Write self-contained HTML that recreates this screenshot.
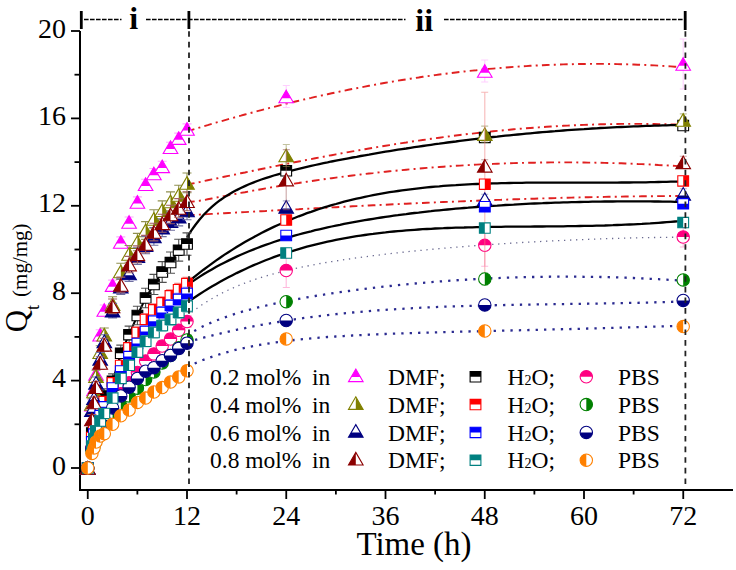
<!DOCTYPE html><html><head><meta charset="utf-8"><style>html,body{margin:0;padding:0;background:#fff;}svg{display:block;}text{font-family:"Liberation Serif",serif;}</style></head><body>
<svg width="736" height="570" viewBox="0 0 736 570">
<defs>
<clipPath id="ctop"><rect x="-10" y="-10" width="20" height="10"/></clipPath>
<clipPath id="ttop"><rect x="-10" y="-10" width="20" height="11.7"/></clipPath>
<clipPath id="tbottom"><rect x="-10" y="1.7" width="20" height="10"/></clipPath>
<clipPath id="cbottom"><rect x="-10" y="0" width="20" height="10"/></clipPath>
<clipPath id="cleft"><rect x="-10" y="-10" width="10" height="20"/></clipPath>
<clipPath id="cright"><rect x="0" y="-10" width="10" height="20"/></clipPath>
<g id="sM"><path d="M0,-6.3 L7.3,6.3 L-7.3,6.3 Z" fill="#fff"/><path d="M0,-6.3 L7.3,6.3 L-7.3,6.3 Z" fill="#FF00FF" clip-path="url(#ttop)"/><path d="M0,-6.3 L7.3,6.3 L-7.3,6.3 Z" fill="none" stroke="#FF00FF" stroke-width="1.1" stroke-linejoin="miter"/></g>
<g id="sO"><path d="M0,-6.3 L7.3,6.3 L-7.3,6.3 Z" fill="#fff"/><path d="M0,-6.3 L7.3,6.3 L-7.3,6.3 Z" fill="#808000" clip-path="url(#cright)"/><path d="M0,-6.3 L7.3,6.3 L-7.3,6.3 Z" fill="none" stroke="#808000" stroke-width="1.1" stroke-linejoin="miter"/></g>
<g id="sNV"><path d="M0,-6.3 L7.3,6.3 L-7.3,6.3 Z" fill="#fff"/><path d="M0,-6.3 L7.3,6.3 L-7.3,6.3 Z" fill="#000080" clip-path="url(#tbottom)"/><path d="M0,-6.3 L7.3,6.3 L-7.3,6.3 Z" fill="none" stroke="#000080" stroke-width="1.1" stroke-linejoin="miter"/></g>
<g id="sDR"><path d="M0,-6.3 L7.3,6.3 L-7.3,6.3 Z" fill="#fff"/><path d="M0,-6.3 L7.3,6.3 L-7.3,6.3 Z" fill="#8B0000" clip-path="url(#cleft)"/><path d="M0,-6.3 L7.3,6.3 L-7.3,6.3 Z" fill="none" stroke="#8B0000" stroke-width="1.1" stroke-linejoin="miter"/></g>
<g id="sBK"><path d="M-5.4,-5.2 H5.4 V5.2 H-5.4 Z" fill="#fff"/><path d="M-5.4,-5.2 H5.4 V5.2 H-5.4 Z" fill="#000000" clip-path="url(#ctop)"/><path d="M-5.4,-5.2 H5.4 V5.2 H-5.4 Z" fill="none" stroke="#000000" stroke-width="1.1" stroke-linejoin="miter"/></g>
<g id="sRD"><path d="M-5.4,-5.2 H5.4 V5.2 H-5.4 Z" fill="#fff"/><path d="M-5.4,-5.2 H5.4 V5.2 H-5.4 Z" fill="#FF0000" clip-path="url(#cright)"/><path d="M-5.4,-5.2 H5.4 V5.2 H-5.4 Z" fill="none" stroke="#FF0000" stroke-width="1.1" stroke-linejoin="miter"/></g>
<g id="sBL"><path d="M-5.4,-5.2 H5.4 V5.2 H-5.4 Z" fill="#fff"/><path d="M-5.4,-5.2 H5.4 V5.2 H-5.4 Z" fill="#0000FF" clip-path="url(#cbottom)"/><path d="M-5.4,-5.2 H5.4 V5.2 H-5.4 Z" fill="none" stroke="#0000FF" stroke-width="1.1" stroke-linejoin="miter"/></g>
<g id="sTL"><path d="M-5.4,-5.2 H5.4 V5.2 H-5.4 Z" fill="#fff"/><path d="M-5.4,-5.2 H5.4 V5.2 H-5.4 Z" fill="#008080" clip-path="url(#cleft)"/><path d="M-5.4,-5.2 H5.4 V5.2 H-5.4 Z" fill="none" stroke="#008080" stroke-width="1.1" stroke-linejoin="miter"/></g>
<g id="sPK"><circle r="6.2" fill="#fff"/><circle r="6.2" fill="#FF0080" clip-path="url(#ctop)"/><circle r="6.2" fill="none" stroke="#FF0080" stroke-width="1.1" stroke-linejoin="miter"/></g>
<g id="sGR"><circle r="6.2" fill="#fff"/><circle r="6.2" fill="#008000" clip-path="url(#cright)"/><circle r="6.2" fill="none" stroke="#008000" stroke-width="1.1" stroke-linejoin="miter"/></g>
<g id="sNC"><circle r="6.2" fill="#fff"/><circle r="6.2" fill="#000080" clip-path="url(#cbottom)"/><circle r="6.2" fill="none" stroke="#000080" stroke-width="1.1" stroke-linejoin="miter"/></g>
<g id="sOR"><circle r="6.2" fill="#fff"/><circle r="6.2" fill="#FF8000" clip-path="url(#cleft)"/><circle r="6.2" fill="none" stroke="#FF8000" stroke-width="1.1" stroke-linejoin="miter"/></g>
<g id="LBK"><path d="M-5.4,-5.2 H5.4 V5.2 H-5.4 Z" fill="#fff"/><path d="M-5.4,-5.2 H5.4 V5.2 H-5.4 Z" fill="#000000" clip-path="url(#ctop)"/><path d="M-5.4,-5.2 H5.4 V5.2 H-5.4 Z" fill="none" stroke="#000000" stroke-width="1.1"/></g>
<g id="LRD"><path d="M-5.4,-5.2 H5.4 V5.2 H-5.4 Z" fill="#fff"/><path d="M-5.4,-5.2 H5.4 V5.2 H-5.4 Z" fill="#FF0000" clip-path="url(#ctop)"/><path d="M-5.4,-5.2 H5.4 V5.2 H-5.4 Z" fill="none" stroke="#FF0000" stroke-width="1.1"/></g>
<g id="LBL"><path d="M-5.4,-5.2 H5.4 V5.2 H-5.4 Z" fill="#fff"/><path d="M-5.4,-5.2 H5.4 V5.2 H-5.4 Z" fill="#0000FF" clip-path="url(#ctop)"/><path d="M-5.4,-5.2 H5.4 V5.2 H-5.4 Z" fill="none" stroke="#0000FF" stroke-width="1.1"/></g>
<g id="LTL"><path d="M-5.4,-5.2 H5.4 V5.2 H-5.4 Z" fill="#fff"/><path d="M-5.4,-5.2 H5.4 V5.2 H-5.4 Z" fill="#008080" clip-path="url(#ctop)"/><path d="M-5.4,-5.2 H5.4 V5.2 H-5.4 Z" fill="none" stroke="#008080" stroke-width="1.1"/></g>
</defs>
<g stroke="#000" fill="none">
<path d="M80,31 V491" stroke-width="2"/>
<path d="M79,490 H733" stroke-width="2"/>
<path d="M71,468.00 H80" stroke-width="1.8"/>
<path d="M74.5,424.30 H80" stroke-width="1.8"/>
<path d="M71,380.60 H80" stroke-width="1.8"/>
<path d="M74.5,336.90 H80" stroke-width="1.8"/>
<path d="M71,293.20 H80" stroke-width="1.8"/>
<path d="M74.5,249.50 H80" stroke-width="1.8"/>
<path d="M71,205.80 H80" stroke-width="1.8"/>
<path d="M74.5,162.10 H80" stroke-width="1.8"/>
<path d="M71,118.40 H80" stroke-width="1.8"/>
<path d="M74.5,74.70 H80" stroke-width="1.8"/>
<path d="M71,31.00 H80" stroke-width="1.8"/>
<path d="M87.75,490 V499" stroke-width="1.8"/>
<path d="M137.38,490 V494.5" stroke-width="1.8"/>
<path d="M187.00,490 V499" stroke-width="1.8"/>
<path d="M236.62,490 V494.5" stroke-width="1.8"/>
<path d="M286.25,490 V499" stroke-width="1.8"/>
<path d="M335.88,490 V494.5" stroke-width="1.8"/>
<path d="M385.50,490 V499" stroke-width="1.8"/>
<path d="M435.12,490 V494.5" stroke-width="1.8"/>
<path d="M484.75,490 V499" stroke-width="1.8"/>
<path d="M534.38,490 V494.5" stroke-width="1.8"/>
<path d="M584.00,490 V499" stroke-width="1.8"/>
<path d="M633.62,490 V494.5" stroke-width="1.8"/>
<path d="M683.25,490 V499" stroke-width="1.8"/>
</g>
<g font-size="28" fill="#000" text-anchor="end">
<text x="66" y="474.5">0</text>
<text x="66" y="387.1">4</text>
<text x="66" y="299.7">8</text>
<text x="66" y="212.3">12</text>
<text x="66" y="124.9">16</text>
<text x="66" y="37.5">20</text>
</g>
<g font-size="28" fill="#000" text-anchor="middle">
<text x="87.8" y="524.7">0</text>
<text x="187.0" y="524.7">12</text>
<text x="286.2" y="524.7">24</text>
<text x="385.5" y="524.7">36</text>
<text x="484.8" y="524.7">48</text>
<text x="584.0" y="524.7">60</text>
<text x="683.2" y="524.7">72</text>
</g>
<text x="414" y="555.4" font-size="33" text-anchor="middle">Time (h)</text>
<g transform="translate(27.2,332.3) rotate(-90)"><text x="0" y="0" font-size="31">Q<tspan font-size="18" dy="12">t</tspan><tspan font-size="21" dy="-12" dx="8">(mg/mg)</tspan></text></g>
<g fill="none" stroke="#000">
<path d="M81.3,11 V29 M188.9,11 V29 M685.2,11 V30" stroke-width="2.8"/>
<path d="M84,19.45 H121.5 M146,19.45 H405.5 M444,19.45 H683" stroke-width="1.5" stroke-dasharray="4.6 1.4"/>
</g>
<text x="133.7" y="28.8" font-size="32" font-weight="bold" text-anchor="middle">i</text>
<text x="424.2" y="31" font-size="32" font-weight="bold" text-anchor="middle">ii</text>
<path d="M187.0,131.4 L191.1,130.2 L195.3,128.9 L199.4,127.6 L203.5,126.4 L207.7,125.2 L211.8,123.9 L215.9,122.7 L220.1,121.5 L224.2,120.3 L228.4,119.1 L232.5,118.0 L236.6,116.8 L240.8,115.7 L244.9,114.5 L249.0,113.4 L253.2,112.3 L257.3,111.2 L261.4,110.1 L265.6,109.0 L269.7,107.9 L273.8,106.9 L278.0,105.8 L282.1,104.8 L286.2,103.8 L290.4,102.7 L294.5,101.7 L298.7,100.8 L302.8,99.8 L306.9,98.8 L311.1,97.9 L315.2,96.9 L319.3,96.0 L323.5,95.1 L327.6,94.2 L331.7,93.3 L335.9,92.4 L340.0,91.5 L344.1,90.7 L348.3,89.8 L352.4,89.0 L356.6,88.2 L360.7,87.4 L364.8,86.6 L369.0,85.8 L373.1,85.0 L377.2,84.3 L381.4,83.5 L385.5,82.8 L389.6,82.1 L393.8,81.4 L397.9,80.7 L402.0,80.0 L406.2,79.4 L410.3,78.7 L414.4,78.1 L418.6,77.5 L422.7,76.8 L426.9,76.2 L431.0,75.7 L435.1,75.1 L439.3,74.5 L443.4,74.0 L447.5,73.5 L451.7,73.0 L455.8,72.5 L459.9,72.0 L464.1,71.5 L468.2,71.0 L472.3,70.6 L476.5,70.2 L480.6,69.7 L484.8,69.3 L488.9,68.9 L493.0,68.6 L497.2,68.2 L501.3,67.9 L505.4,67.5 L509.6,67.2 L513.7,66.9 L517.8,66.6 L522.0,66.3 L526.1,66.1 L530.2,65.8 L534.4,65.6 L538.5,65.4 L542.6,65.2 L546.8,65.0 L550.9,64.8 L555.1,64.7 L559.2,64.5 L563.3,64.4 L567.5,64.3 L571.6,64.2 L575.7,64.1 L579.9,64.0 L584.0,64.0 L588.1,63.9 L592.3,63.9 L596.4,63.9 L600.5,63.9 L604.7,63.9 L608.8,64.0 L612.9,64.0 L617.1,64.1 L621.2,64.2 L625.4,64.3 L629.5,64.4 L633.6,64.5 L637.8,64.7 L641.9,64.8 L646.0,65.0 L650.2,65.2 L654.3,65.4 L658.4,65.6 L662.6,65.9 L666.7,66.1 L670.8,66.4 L675.0,66.7 L679.1,67.0 L683.2,67.3" fill="none" stroke="#E02020" stroke-width="1.9" stroke-dasharray="7.7 4.2 2 4.2"/>
<path d="M187.0,184.7 L191.1,183.8 L195.3,182.9 L199.4,182.1 L203.5,181.2 L207.7,180.3 L211.8,179.4 L215.9,178.6 L220.1,177.7 L224.2,176.8 L228.4,175.9 L232.5,175.1 L236.6,174.2 L240.8,173.3 L244.9,172.5 L249.0,171.6 L253.2,170.7 L257.3,169.9 L261.4,169.0 L265.6,168.2 L269.7,167.3 L273.8,166.5 L278.0,165.6 L282.1,164.8 L286.2,164.0 L290.4,163.1 L294.5,162.3 L298.7,161.5 L302.8,160.7 L306.9,159.9 L311.1,159.1 L315.2,158.3 L319.3,157.5 L323.5,156.7 L327.6,155.9 L331.7,155.2 L335.9,154.4 L340.0,153.6 L344.1,152.9 L348.3,152.1 L352.4,151.4 L356.6,150.7 L360.7,149.9 L364.8,149.2 L369.0,148.5 L373.1,147.8 L377.2,147.1 L381.4,146.4 L385.5,145.7 L389.6,145.1 L393.8,144.4 L397.9,143.7 L402.0,143.1 L406.2,142.5 L410.3,141.8 L414.4,141.2 L418.6,140.6 L422.7,140.0 L426.9,139.4 L431.0,138.8 L435.1,138.3 L439.3,137.7 L443.4,137.1 L447.5,136.6 L451.7,136.1 L455.8,135.5 L459.9,135.0 L464.1,134.5 L468.2,134.0 L472.3,133.6 L476.5,133.1 L480.6,132.6 L484.8,132.2 L488.9,131.7 L493.0,131.3 L497.2,130.9 L501.3,130.5 L505.4,130.1 L509.6,129.7 L513.7,129.3 L517.8,129.0 L522.0,128.6 L526.1,128.3 L530.2,128.0 L534.4,127.7 L538.5,127.4 L542.6,127.1 L546.8,126.8 L550.9,126.5 L555.1,126.3 L559.2,126.0 L563.3,125.8 L567.5,125.6 L571.6,125.4 L575.7,125.2 L579.9,125.0 L584.0,124.9 L588.1,124.7 L592.3,124.6 L596.4,124.4 L600.5,124.3 L604.7,124.2 L608.8,124.1 L612.9,124.1 L617.1,124.0 L621.2,123.9 L625.4,123.9 L629.5,123.9 L633.6,123.9 L637.8,123.9 L641.9,123.9 L646.0,123.9 L650.2,124.0 L654.3,124.0 L658.4,124.1 L662.6,124.2 L666.7,124.3 L670.8,124.4 L675.0,124.5 L679.1,124.7 L683.2,124.8" fill="none" stroke="#E02020" stroke-width="1.9" stroke-dasharray="7.7 4.2 2 4.2"/>
<path d="M187.0,201.8 L191.1,201.7 L195.3,201.3 L199.4,200.8 L203.5,200.1 L207.7,199.3 L211.8,198.5 L215.9,197.7 L220.1,196.9 L224.2,196.1 L228.4,195.3 L232.5,194.5 L236.6,193.7 L240.8,192.9 L244.9,192.2 L249.0,191.4 L253.2,190.6 L257.3,189.9 L261.4,189.2 L265.6,188.4 L269.7,187.7 L273.8,187.0 L278.0,186.3 L282.1,185.6 L286.2,185.0 L290.4,184.3 L294.5,183.6 L298.7,183.0 L302.8,182.3 L306.9,181.7 L311.1,181.1 L315.2,180.5 L319.3,179.9 L323.5,179.3 L327.6,178.7 L331.7,178.2 L335.9,177.6 L340.0,177.1 L344.1,176.5 L348.3,176.0 L352.4,175.5 L356.6,175.0 L360.7,174.5 L364.8,174.0 L369.0,173.5 L373.1,173.1 L377.2,172.6 L381.4,172.2 L385.5,171.7 L389.6,171.3 L393.8,170.9 L397.9,170.5 L402.0,170.1 L406.2,169.7 L410.3,169.3 L414.4,169.0 L418.6,168.6 L422.7,168.2 L426.9,167.9 L431.0,167.6 L435.1,167.3 L439.3,167.0 L443.4,166.7 L447.5,166.4 L451.7,166.1 L455.8,165.8 L459.9,165.6 L464.1,165.3 L468.2,165.1 L472.3,164.9 L476.5,164.6 L480.6,164.4 L484.8,164.2 L488.9,164.1 L493.0,163.9 L497.2,163.7 L501.3,163.6 L505.4,163.4 L509.6,163.3 L513.7,163.1 L517.8,163.0 L522.0,162.9 L526.1,162.8 L530.2,162.7 L534.4,162.7 L538.5,162.6 L542.6,162.5 L546.8,162.5 L550.9,162.4 L555.1,162.4 L559.2,162.4 L563.3,162.4 L567.5,162.4 L571.6,162.4 L575.7,162.4 L579.9,162.5 L584.0,162.5 L588.1,162.6 L592.3,162.6 L596.4,162.7 L600.5,162.8 L604.7,162.9 L608.8,163.0 L612.9,163.1 L617.1,163.2 L621.2,163.3 L625.4,163.5 L629.5,163.6 L633.6,163.8 L637.8,164.0 L641.9,164.1 L646.0,164.3 L650.2,164.5 L654.3,164.7 L658.4,165.0 L662.6,165.2 L666.7,165.4 L670.8,165.7 L675.0,165.9 L679.1,166.2 L683.2,166.5" fill="none" stroke="#E02020" stroke-width="1.9" stroke-dasharray="7.7 4.2 2 4.2"/>
<path d="M187.0,215.3 L191.1,215.0 L195.3,214.8 L199.4,214.6 L203.5,214.4 L207.7,214.1 L211.8,213.9 L215.9,213.7 L220.1,213.5 L224.2,213.2 L228.4,213.0 L232.5,212.8 L236.6,212.5 L240.8,212.3 L244.9,212.1 L249.0,211.9 L253.2,211.6 L257.3,211.4 L261.4,211.2 L265.6,211.0 L269.7,210.7 L273.8,210.5 L278.0,210.3 L282.1,210.1 L286.2,209.8 L290.4,209.6 L294.5,209.4 L298.7,209.2 L302.8,208.9 L306.9,208.7 L311.1,208.5 L315.2,208.3 L319.3,208.1 L323.5,207.8 L327.6,207.6 L331.7,207.4 L335.9,207.2 L340.0,207.0 L344.1,206.8 L348.3,206.5 L352.4,206.3 L356.6,206.1 L360.7,205.9 L364.8,205.7 L369.0,205.5 L373.1,205.3 L377.2,205.1 L381.4,204.9 L385.5,204.7 L389.6,204.5 L393.8,204.3 L397.9,204.1 L402.0,203.9 L406.2,203.7 L410.3,203.5 L414.4,203.3 L418.6,203.1 L422.7,203.0 L426.9,202.8 L431.0,202.6 L435.1,202.4 L439.3,202.2 L443.4,202.0 L447.5,201.9 L451.7,201.7 L455.8,201.5 L459.9,201.4 L464.1,201.2 L468.2,201.0 L472.3,200.9 L476.5,200.7 L480.6,200.5 L484.8,200.4 L488.9,200.2 L493.0,200.1 L497.2,199.9 L501.3,199.8 L505.4,199.6 L509.6,199.5 L513.7,199.3 L517.8,199.2 L522.0,199.1 L526.1,198.9 L530.2,198.8 L534.4,198.7 L538.5,198.5 L542.6,198.4 L546.8,198.3 L550.9,198.2 L555.1,198.1 L559.2,197.9 L563.3,197.8 L567.5,197.7 L571.6,197.6 L575.7,197.5 L579.9,197.4 L584.0,197.3 L588.1,197.2 L592.3,197.1 L596.4,197.1 L600.5,197.0 L604.7,196.9 L608.8,196.8 L612.9,196.7 L617.1,196.7 L621.2,196.6 L625.4,196.5 L629.5,196.5 L633.6,196.4 L637.8,196.4 L641.9,196.3 L646.0,196.3 L650.2,196.2 L654.3,196.2 L658.4,196.1 L662.6,196.1 L666.7,196.1 L670.8,196.0 L675.0,196.0 L679.1,196.0 L683.2,196.0" fill="none" stroke="#E02020" stroke-width="1.9" stroke-dasharray="7.7 4.2 2 4.2"/>
<path d="M187.0,237.5 L191.1,230.9 L195.3,225.0 L199.4,219.8 L203.5,215.0 L207.7,210.7 L211.8,206.9 L215.9,203.4 L220.1,200.2 L224.2,197.4 L228.4,194.7 L232.5,192.3 L236.6,190.1 L240.8,188.0 L244.9,186.1 L249.0,184.3 L253.2,182.6 L257.3,181.0 L261.4,179.5 L265.6,178.1 L269.7,176.8 L273.8,175.5 L278.0,174.3 L282.1,173.1 L286.2,172.0 L290.4,170.9 L294.5,169.8 L298.7,168.8 L302.8,167.8 L306.9,166.9 L311.1,165.9 L315.2,165.0 L319.3,164.1 L323.5,163.2 L327.6,162.4 L331.7,161.5 L335.9,160.7 L340.0,159.9 L344.1,159.1 L348.3,158.3 L352.4,157.5 L356.6,156.8 L360.7,156.0 L364.8,155.3 L369.0,154.6 L373.1,153.8 L377.2,153.1 L381.4,152.4 L385.5,151.7 L389.6,151.1 L393.8,150.4 L397.9,149.7 L402.0,149.1 L406.2,148.5 L410.3,147.8 L414.4,147.2 L418.6,146.6 L422.7,146.0 L426.9,145.4 L431.0,144.8 L435.1,144.2 L439.3,143.7 L443.4,143.1 L447.5,142.5 L451.7,142.0 L455.8,141.5 L459.9,140.9 L464.1,140.4 L468.2,139.9 L472.3,139.4 L476.5,138.9 L480.6,138.4 L484.8,138.0 L488.9,137.5 L493.0,137.0 L497.2,136.6 L501.3,136.1 L505.4,135.7 L509.6,135.3 L513.7,134.9 L517.8,134.5 L522.0,134.1 L526.1,133.7 L530.2,133.3 L534.4,132.9 L538.5,132.5 L542.6,132.2 L546.8,131.8 L550.9,131.5 L555.1,131.2 L559.2,130.8 L563.3,130.5 L567.5,130.2 L571.6,129.9 L575.7,129.6 L579.9,129.3 L584.0,129.1 L588.1,128.8 L592.3,128.5 L596.4,128.3 L600.5,128.0 L604.7,127.8 L608.8,127.6 L612.9,127.4 L617.1,127.2 L621.2,127.0 L625.4,126.8 L629.5,126.6 L633.6,126.4 L637.8,126.3 L641.9,126.1 L646.0,125.9 L650.2,125.8 L654.3,125.7 L658.4,125.6 L662.6,125.4 L666.7,125.3 L670.8,125.2 L675.0,125.1 L679.1,125.1 L683.2,125.0" fill="none" stroke="#000" stroke-width="2.3"/>
<path d="M187.0,283.0 L191.1,279.5 L195.3,276.2 L199.4,272.9 L203.5,269.7 L207.7,266.6 L211.8,263.6 L215.9,260.6 L220.1,257.7 L224.2,254.9 L228.4,252.2 L232.5,249.6 L236.6,247.0 L240.8,244.5 L244.9,242.1 L249.0,239.7 L253.2,237.4 L257.3,235.2 L261.4,233.0 L265.6,230.9 L269.7,228.9 L273.8,226.9 L278.0,225.0 L282.1,223.2 L286.2,221.4 L290.4,219.6 L294.5,218.0 L298.7,216.3 L302.8,214.8 L306.9,213.2 L311.1,211.8 L315.2,210.3 L319.3,209.0 L323.5,207.6 L327.6,206.4 L331.7,205.1 L335.9,204.0 L340.0,202.8 L344.1,201.7 L348.3,200.7 L352.4,199.7 L356.6,198.7 L360.7,197.8 L364.8,196.9 L369.0,196.0 L373.1,195.2 L377.2,194.4 L381.4,193.6 L385.5,192.9 L389.6,192.2 L393.8,191.6 L397.9,191.0 L402.0,190.4 L406.2,189.8 L410.3,189.3 L414.4,188.8 L418.6,188.3 L422.7,187.8 L426.9,187.4 L431.0,187.0 L435.1,186.6 L439.3,186.3 L443.4,185.9 L447.5,185.6 L451.7,185.3 L455.8,185.1 L459.9,184.8 L464.1,184.6 L468.2,184.4 L472.3,184.2 L476.5,184.0 L480.6,183.8 L484.8,183.6 L488.9,183.5 L493.0,183.4 L497.2,183.3 L501.3,183.1 L505.4,183.1 L509.6,183.0 L513.7,182.9 L517.8,182.8 L522.0,182.8 L526.1,182.7 L530.2,182.7 L534.4,182.7 L538.5,182.6 L542.6,182.6 L546.8,182.6 L550.9,182.6 L555.1,182.6 L559.2,182.6 L563.3,182.6 L567.5,182.6 L571.6,182.6 L575.7,182.6 L579.9,182.6 L584.0,182.6 L588.1,182.6 L592.3,182.6 L596.4,182.6 L600.5,182.6 L604.7,182.6 L608.8,182.6 L612.9,182.6 L617.1,182.6 L621.2,182.5 L625.4,182.5 L629.5,182.5 L633.6,182.4 L637.8,182.4 L641.9,182.3 L646.0,182.3 L650.2,182.2 L654.3,182.1 L658.4,182.0 L662.6,181.9 L666.7,181.8 L670.8,181.7 L675.0,181.6 L679.1,181.5 L683.2,181.3" fill="none" stroke="#000" stroke-width="2.3"/>
<path d="M187.0,285.3 L191.1,282.4 L195.3,279.6 L199.4,276.9 L203.5,274.3 L207.7,271.8 L211.8,269.4 L215.9,267.0 L220.1,264.8 L224.2,262.7 L228.4,260.6 L232.5,258.6 L236.6,256.6 L240.8,254.8 L244.9,253.0 L249.0,251.3 L253.2,249.6 L257.3,248.0 L261.4,246.4 L265.6,244.9 L269.7,243.5 L273.8,242.0 L278.0,240.7 L282.1,239.4 L286.2,238.1 L290.4,236.9 L294.5,235.7 L298.7,234.5 L302.8,233.4 L306.9,232.3 L311.1,231.3 L315.2,230.2 L319.3,229.3 L323.5,228.3 L327.6,227.4 L331.7,226.5 L335.9,225.6 L340.0,224.8 L344.1,223.9 L348.3,223.1 L352.4,222.4 L356.6,221.6 L360.7,220.9 L364.8,220.2 L369.0,219.5 L373.1,218.8 L377.2,218.1 L381.4,217.5 L385.5,216.9 L389.6,216.3 L393.8,215.7 L397.9,215.2 L402.0,214.6 L406.2,214.1 L410.3,213.5 L414.4,213.0 L418.6,212.6 L422.7,212.1 L426.9,211.6 L431.0,211.2 L435.1,210.7 L439.3,210.3 L443.4,209.9 L447.5,209.5 L451.7,209.1 L455.8,208.7 L459.9,208.4 L464.1,208.0 L468.2,207.7 L472.3,207.3 L476.5,207.0 L480.6,206.7 L484.8,206.4 L488.9,206.1 L493.0,205.8 L497.2,205.6 L501.3,205.3 L505.4,205.0 L509.6,204.8 L513.7,204.6 L517.8,204.3 L522.0,204.1 L526.1,203.9 L530.2,203.7 L534.4,203.5 L538.5,203.3 L542.6,203.2 L546.8,203.0 L550.9,202.8 L555.1,202.7 L559.2,202.6 L563.3,202.4 L567.5,202.3 L571.6,202.2 L575.7,202.1 L579.9,202.0 L584.0,201.9 L588.1,201.8 L592.3,201.7 L596.4,201.7 L600.5,201.6 L604.7,201.5 L608.8,201.5 L612.9,201.5 L617.1,201.4 L621.2,201.4 L625.4,201.4 L629.5,201.4 L633.6,201.4 L637.8,201.4 L641.9,201.4 L646.0,201.4 L650.2,201.4 L654.3,201.5 L658.4,201.5 L662.6,201.6 L666.7,201.6 L670.8,201.7 L675.0,201.8 L679.1,201.8 L683.2,201.9" fill="none" stroke="#000" stroke-width="2.3"/>
<path d="M187.0,302.7 L191.1,299.8 L195.3,297.0 L199.4,294.3 L203.5,291.6 L207.7,289.1 L211.8,286.6 L215.9,284.2 L220.1,281.8 L224.2,279.5 L228.4,277.3 L232.5,275.2 L236.6,273.1 L240.8,271.1 L244.9,269.2 L249.0,267.3 L253.2,265.4 L257.3,263.7 L261.4,262.0 L265.6,260.3 L269.7,258.7 L273.8,257.2 L278.0,255.7 L282.1,254.3 L286.2,252.9 L290.4,251.6 L294.5,250.3 L298.7,249.1 L302.8,247.9 L306.9,246.7 L311.1,245.6 L315.2,244.6 L319.3,243.6 L323.5,242.6 L327.6,241.7 L331.7,240.8 L335.9,239.9 L340.0,239.1 L344.1,238.4 L348.3,237.6 L352.4,236.9 L356.6,236.2 L360.7,235.6 L364.8,235.0 L369.0,234.4 L373.1,233.9 L377.2,233.3 L381.4,232.8 L385.5,232.4 L389.6,231.9 L393.8,231.5 L397.9,231.1 L402.0,230.8 L406.2,230.4 L410.3,230.1 L414.4,229.8 L418.6,229.5 L422.7,229.2 L426.9,229.0 L431.0,228.8 L435.1,228.5 L439.3,228.3 L443.4,228.2 L447.5,228.0 L451.7,227.8 L455.8,227.7 L459.9,227.6 L464.1,227.5 L468.2,227.3 L472.3,227.3 L476.5,227.2 L480.6,227.1 L484.8,227.0 L488.9,226.9 L493.0,226.9 L497.2,226.8 L501.3,226.8 L505.4,226.7 L509.6,226.7 L513.7,226.7 L517.8,226.6 L522.0,226.6 L526.1,226.6 L530.2,226.6 L534.4,226.5 L538.5,226.5 L542.6,226.5 L546.8,226.4 L550.9,226.4 L555.1,226.4 L559.2,226.3 L563.3,226.3 L567.5,226.2 L571.6,226.2 L575.7,226.1 L579.9,226.0 L584.0,225.9 L588.1,225.9 L592.3,225.8 L596.4,225.7 L600.5,225.6 L604.7,225.5 L608.8,225.3 L612.9,225.2 L617.1,225.0 L621.2,224.9 L625.4,224.7 L629.5,224.5 L633.6,224.3 L637.8,224.1 L641.9,223.9 L646.0,223.6 L650.2,223.4 L654.3,223.1 L658.4,222.8 L662.6,222.5 L666.7,222.2 L670.8,221.9 L675.0,221.5 L679.1,221.2 L683.2,220.8" fill="none" stroke="#000" stroke-width="2.3"/>
<path d="M187.0,316.2 L191.1,312.8 L195.3,309.6 L199.4,306.6 L203.5,303.8 L207.7,301.2 L211.8,298.7 L215.9,296.3 L220.1,294.1 L224.2,292.0 L228.4,290.0 L232.5,288.2 L236.6,286.4 L240.8,284.7 L244.9,283.1 L249.0,281.6 L253.2,280.1 L257.3,278.7 L261.4,277.4 L265.6,276.1 L269.7,274.9 L273.8,273.8 L278.0,272.7 L282.1,271.6 L286.2,270.6 L290.4,269.6 L294.5,268.7 L298.7,267.8 L302.8,266.9 L306.9,266.1 L311.1,265.3 L315.2,264.5 L319.3,263.7 L323.5,263.0 L327.6,262.3 L331.7,261.6 L335.9,260.9 L340.0,260.3 L344.1,259.7 L348.3,259.1 L352.4,258.5 L356.6,257.9 L360.7,257.3 L364.8,256.8 L369.0,256.2 L373.1,255.7 L377.2,255.2 L381.4,254.7 L385.5,254.2 L389.6,253.7 L393.8,253.2 L397.9,252.8 L402.0,252.3 L406.2,251.9 L410.3,251.4 L414.4,251.0 L418.6,250.6 L422.7,250.2 L426.9,249.8 L431.0,249.4 L435.1,249.0 L439.3,248.7 L443.4,248.3 L447.5,247.9 L451.7,247.6 L455.8,247.2 L459.9,246.9 L464.1,246.6 L468.2,246.2 L472.3,245.9 L476.5,245.6 L480.6,245.3 L484.8,245.0 L488.9,244.7 L493.0,244.4 L497.2,244.1 L501.3,243.8 L505.4,243.6 L509.6,243.3 L513.7,243.0 L517.8,242.8 L522.0,242.5 L526.1,242.3 L530.2,242.1 L534.4,241.8 L538.5,241.6 L542.6,241.4 L546.8,241.2 L550.9,241.0 L555.1,240.8 L559.2,240.6 L563.3,240.4 L567.5,240.2 L571.6,240.0 L575.7,239.8 L579.9,239.7 L584.0,239.5 L588.1,239.3 L592.3,239.2 L596.4,239.0 L600.5,238.9 L604.7,238.7 L608.8,238.6 L612.9,238.5 L617.1,238.4 L621.2,238.2 L625.4,238.1 L629.5,238.0 L633.6,237.9 L637.8,237.8 L641.9,237.7 L646.0,237.7 L650.2,237.6 L654.3,237.5 L658.4,237.4 L662.6,237.4 L666.7,237.3 L670.8,237.3 L675.0,237.2 L679.1,237.2 L683.2,237.1" fill="none" stroke="#6A6A90" stroke-width="1.3" stroke-dasharray="1.3 4.7"/>
<path d="M187.0,335.3 L191.1,332.8 L195.3,330.4 L199.4,328.2 L203.5,326.1 L207.7,324.2 L211.8,322.4 L215.9,320.7 L220.1,319.1 L224.2,317.5 L228.4,316.1 L232.5,314.7 L236.6,313.4 L240.8,312.1 L244.9,310.9 L249.0,309.8 L253.2,308.7 L257.3,307.6 L261.4,306.6 L265.6,305.7 L269.7,304.7 L273.8,303.8 L278.0,302.9 L282.1,302.0 L286.2,301.2 L290.4,300.4 L294.5,299.6 L298.7,298.9 L302.8,298.1 L306.9,297.4 L311.1,296.7 L315.2,296.0 L319.3,295.3 L323.5,294.7 L327.6,294.0 L331.7,293.4 L335.9,292.8 L340.0,292.2 L344.1,291.6 L348.3,291.0 L352.4,290.5 L356.6,289.9 L360.7,289.4 L364.8,288.9 L369.0,288.4 L373.1,287.9 L377.2,287.4 L381.4,286.9 L385.5,286.5 L389.6,286.0 L393.8,285.6 L397.9,285.1 L402.0,284.7 L406.2,284.3 L410.3,283.9 L414.4,283.5 L418.6,283.2 L422.7,282.8 L426.9,282.5 L431.0,282.1 L435.1,281.8 L439.3,281.5 L443.4,281.2 L447.5,280.9 L451.7,280.6 L455.8,280.3 L459.9,280.0 L464.1,279.8 L468.2,279.5 L472.3,279.3 L476.5,279.0 L480.6,278.8 L484.8,278.6 L488.9,278.4 L493.0,278.2 L497.2,278.1 L501.3,277.9 L505.4,277.7 L509.6,277.6 L513.7,277.5 L517.8,277.3 L522.0,277.2 L526.1,277.1 L530.2,277.0 L534.4,277.0 L538.5,276.9 L542.6,276.8 L546.8,276.8 L550.9,276.7 L555.1,276.7 L559.2,276.7 L563.3,276.7 L567.5,276.7 L571.6,276.7 L575.7,276.7 L579.9,276.7 L584.0,276.8 L588.1,276.8 L592.3,276.9 L596.4,276.9 L600.5,277.0 L604.7,277.1 L608.8,277.2 L612.9,277.3 L617.1,277.4 L621.2,277.6 L625.4,277.7 L629.5,277.9 L633.6,278.0 L637.8,278.2 L641.9,278.4 L646.0,278.6 L650.2,278.8 L654.3,279.0 L658.4,279.2 L662.6,279.5 L666.7,279.7 L670.8,280.0 L675.0,280.2 L679.1,280.5 L683.2,280.8" fill="none" stroke="#2A2A90" stroke-width="2.3" stroke-dasharray="2.3 6.1"/>
<path d="M187.0,342.3 L191.1,341.1 L195.3,339.9 L199.4,338.8 L203.5,337.7 L207.7,336.6 L211.8,335.6 L215.9,334.6 L220.1,333.6 L224.2,332.6 L228.4,331.6 L232.5,330.7 L236.6,329.8 L240.8,328.9 L244.9,328.1 L249.0,327.2 L253.2,326.4 L257.3,325.6 L261.4,324.8 L265.6,324.1 L269.7,323.4 L273.8,322.6 L278.0,322.0 L282.1,321.3 L286.2,320.6 L290.4,320.0 L294.5,319.4 L298.7,318.8 L302.8,318.2 L306.9,317.6 L311.1,317.1 L315.2,316.6 L319.3,316.1 L323.5,315.6 L327.6,315.1 L331.7,314.6 L335.9,314.2 L340.0,313.7 L344.1,313.3 L348.3,312.9 L352.4,312.5 L356.6,312.1 L360.7,311.8 L364.8,311.4 L369.0,311.1 L373.1,310.7 L377.2,310.4 L381.4,310.1 L385.5,309.8 L389.6,309.5 L393.8,309.3 L397.9,309.0 L402.0,308.8 L406.2,308.5 L410.3,308.3 L414.4,308.1 L418.6,307.8 L422.7,307.6 L426.9,307.4 L431.0,307.3 L435.1,307.1 L439.3,306.9 L443.4,306.7 L447.5,306.6 L451.7,306.4 L455.8,306.3 L459.9,306.2 L464.1,306.0 L468.2,305.9 L472.3,305.8 L476.5,305.7 L480.6,305.6 L484.8,305.5 L488.9,305.4 L493.0,305.3 L497.2,305.2 L501.3,305.1 L505.4,305.0 L509.6,304.9 L513.7,304.8 L517.8,304.8 L522.0,304.7 L526.1,304.6 L530.2,304.6 L534.4,304.5 L538.5,304.4 L542.6,304.4 L546.8,304.3 L550.9,304.2 L555.1,304.2 L559.2,304.1 L563.3,304.1 L567.5,304.0 L571.6,303.9 L575.7,303.9 L579.9,303.8 L584.0,303.8 L588.1,303.7 L592.3,303.6 L596.4,303.6 L600.5,303.5 L604.7,303.4 L608.8,303.4 L612.9,303.3 L617.1,303.2 L621.2,303.1 L625.4,303.0 L629.5,302.9 L633.6,302.9 L637.8,302.8 L641.9,302.7 L646.0,302.6 L650.2,302.5 L654.3,302.3 L658.4,302.2 L662.6,302.1 L666.7,302.0 L670.8,301.8 L675.0,301.7 L679.1,301.6 L683.2,301.4" fill="none" stroke="#2A2A90" stroke-width="2.3" stroke-dasharray="2.3 6.1"/>
<path d="M187.0,367.0 L191.1,365.0 L195.3,363.2 L199.4,361.5 L203.5,359.8 L207.7,358.3 L211.8,356.8 L215.9,355.5 L220.1,354.2 L224.2,352.9 L228.4,351.8 L232.5,350.7 L236.6,349.7 L240.8,348.7 L244.9,347.8 L249.0,346.9 L253.2,346.1 L257.3,345.3 L261.4,344.6 L265.6,343.9 L269.7,343.3 L273.8,342.6 L278.0,342.1 L282.1,341.5 L286.2,341.0 L290.4,340.5 L294.5,340.0 L298.7,339.6 L302.8,339.2 L306.9,338.8 L311.1,338.4 L315.2,338.0 L319.3,337.7 L323.5,337.4 L327.6,337.0 L331.7,336.8 L335.9,336.5 L340.0,336.2 L344.1,336.0 L348.3,335.7 L352.4,335.5 L356.6,335.3 L360.7,335.1 L364.8,334.9 L369.0,334.7 L373.1,334.5 L377.2,334.3 L381.4,334.1 L385.5,334.0 L389.6,333.8 L393.8,333.7 L397.9,333.5 L402.0,333.4 L406.2,333.2 L410.3,333.1 L414.4,333.0 L418.6,332.8 L422.7,332.7 L426.9,332.6 L431.0,332.5 L435.1,332.4 L439.3,332.2 L443.4,332.1 L447.5,332.0 L451.7,331.9 L455.8,331.8 L459.9,331.7 L464.1,331.6 L468.2,331.5 L472.3,331.4 L476.5,331.3 L480.6,331.2 L484.8,331.1 L488.9,331.0 L493.0,330.9 L497.2,330.8 L501.3,330.7 L505.4,330.6 L509.6,330.5 L513.7,330.4 L517.8,330.3 L522.0,330.2 L526.1,330.1 L530.2,330.0 L534.4,329.9 L538.5,329.8 L542.6,329.7 L546.8,329.6 L550.9,329.5 L555.1,329.4 L559.2,329.3 L563.3,329.2 L567.5,329.1 L571.6,329.0 L575.7,328.9 L579.9,328.8 L584.0,328.6 L588.1,328.5 L592.3,328.4 L596.4,328.3 L600.5,328.2 L604.7,328.1 L608.8,328.0 L612.9,327.9 L617.1,327.7 L621.2,327.6 L625.4,327.5 L629.5,327.4 L633.6,327.3 L637.8,327.1 L641.9,327.0 L646.0,326.9 L650.2,326.8 L654.3,326.6 L658.4,326.5 L662.6,326.4 L666.7,326.3 L670.8,326.1 L675.0,326.0 L679.1,325.9 L683.2,325.7" fill="none" stroke="#2A2A90" stroke-width="2.3" stroke-dasharray="2.3 6.1"/>
<path d="M112.6,381.3 L120.8,353.3 L129.1,334.7 L137.4,315.5 L145.6,298.0 L153.9,284.5 L162.2,272.0 L170.5,262.6 L178.7,250.2 L187.0,244.0" fill="none" stroke="#000" stroke-width="2"/>
<g>
<use href="#sM" x="87.8" y="468.0"/>
<path d="M91.9,399.6 V409.6 M87.4,399.6 h9.0 M87.4,409.6 h9.0" stroke="#FFA8FF" stroke-width="1.1" fill="none"/>
<use href="#sM" x="91.9" y="404.6"/>
<path d="M94.0,384.3 V394.3 M89.5,384.3 h9.0 M89.5,394.3 h9.0" stroke="#FFA8FF" stroke-width="1.1" fill="none"/>
<use href="#sM" x="94.0" y="389.3"/>
<path d="M96.0,369.0 V379.0 M91.5,369.0 h9.0 M91.5,379.0 h9.0" stroke="#FFA8FF" stroke-width="1.1" fill="none"/>
<use href="#sM" x="96.0" y="374.0"/>
<path d="M100.2,329.7 V339.7 M95.7,329.7 h9.0 M95.7,339.7 h9.0" stroke="#FFA8FF" stroke-width="1.1" fill="none"/>
<use href="#sM" x="100.2" y="334.7"/>
<path d="M104.3,305.0 V315.0 M99.8,305.0 h9.0 M99.8,315.0 h9.0" stroke="#FFA8FF" stroke-width="1.1" fill="none"/>
<use href="#sM" x="104.3" y="310.0"/>
<path d="M112.6,280.1 V290.1 M108.1,280.1 h9.0 M108.1,290.1 h9.0" stroke="#FFA8FF" stroke-width="1.1" fill="none"/>
<use href="#sM" x="112.6" y="285.1"/>
<path d="M120.8,236.9 V246.9 M116.3,236.9 h9.0 M116.3,246.9 h9.0" stroke="#FFA8FF" stroke-width="1.1" fill="none"/>
<use href="#sM" x="120.8" y="241.9"/>
<path d="M129.1,217.0 V227.0 M124.6,217.0 h9.0 M124.6,227.0 h9.0" stroke="#FFA8FF" stroke-width="1.1" fill="none"/>
<use href="#sM" x="129.1" y="222.0"/>
<path d="M137.4,196.9 V206.9 M132.9,196.9 h9.0 M132.9,206.9 h9.0" stroke="#FFA8FF" stroke-width="1.1" fill="none"/>
<use href="#sM" x="137.4" y="201.9"/>
<path d="M145.6,179.2 V189.2 M141.1,179.2 h9.0 M141.1,189.2 h9.0" stroke="#FFA8FF" stroke-width="1.1" fill="none"/>
<use href="#sM" x="145.6" y="184.2"/>
<path d="M153.9,168.5 V178.5 M149.4,168.5 h9.0 M149.4,178.5 h9.0" stroke="#FFA8FF" stroke-width="1.1" fill="none"/>
<use href="#sM" x="153.9" y="173.5"/>
<path d="M162.2,161.3 V171.3 M157.7,161.3 h9.0 M157.7,171.3 h9.0" stroke="#FFA8FF" stroke-width="1.1" fill="none"/>
<use href="#sM" x="162.2" y="166.3"/>
<path d="M170.5,142.2 V152.2 M166.0,142.2 h9.0 M166.0,152.2 h9.0" stroke="#FFA8FF" stroke-width="1.1" fill="none"/>
<use href="#sM" x="170.5" y="147.2"/>
<path d="M178.7,133.1 V143.1 M174.2,133.1 h9.0 M174.2,143.1 h9.0" stroke="#FFA8FF" stroke-width="1.1" fill="none"/>
<use href="#sM" x="178.7" y="138.1"/>
<path d="M187.0,123.9 V133.9 M182.5,123.9 h9.0 M182.5,133.9 h9.0" stroke="#FFA8FF" stroke-width="1.1" fill="none"/>
<use href="#sM" x="187.0" y="128.9"/>
<path d="M286.2,85.5 V107.5 M282.8,85.5 h7.0 M282.8,107.5 h7.0" stroke="#FFA8FF" stroke-width="1.1" fill="none" stroke-opacity="0.55"/>
<use href="#sM" x="286.2" y="96.5"/>
<path d="M484.8,60.0 V82.0 M481.2,60.0 h7.0 M481.2,82.0 h7.0" stroke="#FFA8FF" stroke-width="1.1" fill="none" stroke-opacity="0.55"/>
<use href="#sM" x="484.8" y="71.0"/>
<path d="M683.2,39.0 V89.0 M679.8,39.0 h7.0 M679.8,89.0 h7.0" stroke="#FFA8FF" stroke-width="1.1" fill="none" stroke-opacity="0.55"/>
<use href="#sM" x="683.2" y="64.0"/>
<use href="#sBK" x="87.8" y="468.0"/>
<path d="M91.9,427.1 V439.0 M87.4,427.1 h9.0 M87.4,439.0 h9.0" stroke="#505050" stroke-width="1.1" fill="none"/>
<use href="#sBK" x="91.9" y="433.0"/>
<path d="M94.0,418.1 V430.5 M89.5,418.1 h9.0 M89.5,430.5 h9.0" stroke="#505050" stroke-width="1.1" fill="none"/>
<use href="#sBK" x="94.0" y="424.3"/>
<path d="M96.0,409.1 V422.0 M91.5,409.1 h9.0 M91.5,422.0 h9.0" stroke="#505050" stroke-width="1.1" fill="none"/>
<use href="#sBK" x="96.0" y="415.6"/>
<path d="M100.2,397.9 V411.4 M95.7,397.9 h9.0 M95.7,411.4 h9.0" stroke="#505050" stroke-width="1.1" fill="none"/>
<use href="#sBK" x="100.2" y="404.6"/>
<path d="M104.3,388.9 V402.9 M99.8,388.9 h9.0 M99.8,402.9 h9.0" stroke="#505050" stroke-width="1.1" fill="none"/>
<use href="#sBK" x="104.3" y="395.9"/>
<path d="M112.6,373.9 V388.6 M108.1,373.9 h9.0 M108.1,388.6 h9.0" stroke="#505050" stroke-width="1.1" fill="none"/>
<use href="#sBK" x="112.6" y="381.3"/>
<path d="M120.8,345.1 V361.4 M116.3,345.1 h9.0 M116.3,361.4 h9.0" stroke="#505050" stroke-width="1.1" fill="none"/>
<use href="#sBK" x="120.8" y="353.3"/>
<path d="M129.1,326.1 V343.4 M124.6,326.1 h9.0 M124.6,343.4 h9.0" stroke="#505050" stroke-width="1.1" fill="none"/>
<use href="#sBK" x="129.1" y="334.7"/>
<path d="M137.4,306.3 V324.7 M132.9,306.3 h9.0 M132.9,324.7 h9.0" stroke="#505050" stroke-width="1.1" fill="none"/>
<use href="#sBK" x="137.4" y="315.5"/>
<path d="M145.6,288.3 V307.7 M141.1,288.3 h9.0 M141.1,307.7 h9.0" stroke="#505050" stroke-width="1.1" fill="none"/>
<use href="#sBK" x="145.6" y="298.0"/>
<path d="M153.9,274.4 V294.5 M149.4,274.4 h9.0 M149.4,294.5 h9.0" stroke="#505050" stroke-width="1.1" fill="none"/>
<use href="#sBK" x="153.9" y="284.5"/>
<path d="M162.2,261.6 V282.4 M157.7,261.6 h9.0 M157.7,282.4 h9.0" stroke="#505050" stroke-width="1.1" fill="none"/>
<use href="#sBK" x="162.2" y="272.0"/>
<path d="M170.5,252.0 V273.2 M166.0,252.0 h9.0 M166.0,273.2 h9.0" stroke="#505050" stroke-width="1.1" fill="none"/>
<use href="#sBK" x="170.5" y="262.6"/>
<path d="M178.7,239.2 V261.1 M174.2,239.2 h9.0 M174.2,261.1 h9.0" stroke="#505050" stroke-width="1.1" fill="none"/>
<use href="#sBK" x="178.7" y="250.2"/>
<path d="M187.0,232.9 V255.2 M182.5,232.9 h9.0 M182.5,255.2 h9.0" stroke="#505050" stroke-width="1.1" fill="none"/>
<use href="#sBK" x="187.0" y="244.0"/>
<path d="M286.2,166.8 V174.8 M282.8,166.8 h7.0 M282.8,174.8 h7.0" stroke="#505050" stroke-width="1.1" fill="none" stroke-opacity="0.55"/>
<use href="#sBK" x="286.2" y="170.8"/>
<path d="M484.8,133.4 V141.4 M481.2,133.4 h7.0 M481.2,141.4 h7.0" stroke="#505050" stroke-width="1.1" fill="none" stroke-opacity="0.55"/>
<use href="#sBK" x="484.8" y="137.4"/>
<path d="M683.2,121.6 V129.6 M679.8,121.6 h7.0 M679.8,129.6 h7.0" stroke="#505050" stroke-width="1.1" fill="none" stroke-opacity="0.55"/>
<use href="#sBK" x="683.2" y="125.6"/>
<use href="#sPK" x="87.8" y="468.0"/>
<path d="M91.9,445.0 V451.7 M87.4,445.0 h9.0 M87.4,451.7 h9.0" stroke="#FF80C0" stroke-width="1.1" fill="none"/>
<use href="#sPK" x="91.9" y="448.3"/>
<path d="M94.0,439.4 V446.3 M89.5,439.4 h9.0 M89.5,446.3 h9.0" stroke="#FF80C0" stroke-width="1.1" fill="none"/>
<use href="#sPK" x="94.0" y="442.9"/>
<path d="M96.0,432.7 V439.9 M91.5,432.7 h9.0 M91.5,439.9 h9.0" stroke="#FF80C0" stroke-width="1.1" fill="none"/>
<use href="#sPK" x="96.0" y="436.3"/>
<path d="M100.2,423.8 V431.3 M95.7,423.8 h9.0 M95.7,431.3 h9.0" stroke="#FF80C0" stroke-width="1.1" fill="none"/>
<use href="#sPK" x="100.2" y="427.6"/>
<path d="M104.3,416.1 V423.8 M99.8,416.1 h9.0 M99.8,423.8 h9.0" stroke="#FF80C0" stroke-width="1.1" fill="none"/>
<use href="#sPK" x="104.3" y="419.9"/>
<path d="M112.6,402.7 V410.9 M108.1,402.7 h9.0 M108.1,410.9 h9.0" stroke="#FF80C0" stroke-width="1.1" fill="none"/>
<use href="#sPK" x="112.6" y="406.8"/>
<path d="M120.8,389.3 V398.1 M116.3,389.3 h9.0 M116.3,398.1 h9.0" stroke="#FF80C0" stroke-width="1.1" fill="none"/>
<use href="#sPK" x="120.8" y="393.7"/>
<path d="M129.1,378.2 V387.3 M124.6,378.2 h9.0 M124.6,387.3 h9.0" stroke="#FF80C0" stroke-width="1.1" fill="none"/>
<use href="#sPK" x="129.1" y="382.8"/>
<path d="M137.4,367.8 V377.3 M132.9,367.8 h9.0 M132.9,377.3 h9.0" stroke="#FF80C0" stroke-width="1.1" fill="none"/>
<use href="#sPK" x="137.4" y="372.5"/>
<path d="M145.6,356.0 V365.9 M141.1,356.0 h9.0 M141.1,365.9 h9.0" stroke="#FF80C0" stroke-width="1.1" fill="none"/>
<use href="#sPK" x="145.6" y="360.9"/>
<path d="M153.9,348.9 V359.0 M149.4,348.9 h9.0 M149.4,359.0 h9.0" stroke="#FF80C0" stroke-width="1.1" fill="none"/>
<use href="#sPK" x="153.9" y="353.9"/>
<path d="M162.2,340.8 V351.3 M157.7,340.8 h9.0 M157.7,351.3 h9.0" stroke="#FF80C0" stroke-width="1.1" fill="none"/>
<use href="#sPK" x="162.2" y="346.1"/>
<path d="M170.5,333.7 V344.4 M166.0,333.7 h9.0 M166.0,344.4 h9.0" stroke="#FF80C0" stroke-width="1.1" fill="none"/>
<use href="#sPK" x="170.5" y="339.1"/>
<path d="M178.7,324.8 V335.9 M174.2,324.8 h9.0 M174.2,335.9 h9.0" stroke="#FF80C0" stroke-width="1.1" fill="none"/>
<use href="#sPK" x="178.7" y="330.3"/>
<path d="M187.0,315.9 V327.3 M182.5,315.9 h9.0 M182.5,327.3 h9.0" stroke="#FF80C0" stroke-width="1.1" fill="none"/>
<use href="#sPK" x="187.0" y="321.6"/>
<path d="M286.2,253.5 V287.5 M282.8,253.5 h7.0 M282.8,287.5 h7.0" stroke="#FF80C0" stroke-width="1.1" fill="none" stroke-opacity="0.55"/>
<use href="#sPK" x="286.2" y="270.5"/>
<path d="M484.8,224.3 V266.3 M481.2,224.3 h7.0 M481.2,266.3 h7.0" stroke="#FF80C0" stroke-width="1.1" fill="none" stroke-opacity="0.55"/>
<use href="#sPK" x="484.8" y="245.3"/>
<path d="M683.2,227.0 V247.0 M679.8,227.0 h7.0 M679.8,247.0 h7.0" stroke="#FF80C0" stroke-width="1.1" fill="none" stroke-opacity="0.55"/>
<use href="#sPK" x="683.2" y="237.0"/>
<use href="#sO" x="87.8" y="468.0"/>
<path d="M91.9,398.7 V409.3 M87.4,398.7 h9.0 M87.4,409.3 h9.0" stroke="#909050" stroke-width="1.1" fill="none"/>
<use href="#sO" x="91.9" y="404.0"/>
<path d="M94.0,385.9 V397.1 M89.5,385.9 h9.0 M89.5,397.1 h9.0" stroke="#909050" stroke-width="1.1" fill="none"/>
<use href="#sO" x="94.0" y="391.5"/>
<path d="M96.0,370.3 V382.1 M91.5,370.3 h9.0 M91.5,382.1 h9.0" stroke="#909050" stroke-width="1.1" fill="none"/>
<use href="#sO" x="96.0" y="376.2"/>
<path d="M100.2,345.8 V358.6 M95.7,345.8 h9.0 M95.7,358.6 h9.0" stroke="#909050" stroke-width="1.1" fill="none"/>
<use href="#sO" x="100.2" y="352.2"/>
<path d="M104.3,328.0 V341.5 M99.8,328.0 h9.0 M99.8,341.5 h9.0" stroke="#909050" stroke-width="1.1" fill="none"/>
<use href="#sO" x="104.3" y="334.7"/>
<path d="M112.6,296.8 V311.5 M108.1,296.8 h9.0 M108.1,311.5 h9.0" stroke="#909050" stroke-width="1.1" fill="none"/>
<use href="#sO" x="112.6" y="304.1"/>
<path d="M120.8,263.3 V279.4 M116.3,263.3 h9.0 M116.3,279.4 h9.0" stroke="#909050" stroke-width="1.1" fill="none"/>
<use href="#sO" x="120.8" y="271.4"/>
<path d="M129.1,245.5 V262.3 M124.6,245.5 h9.0 M124.6,262.3 h9.0" stroke="#909050" stroke-width="1.1" fill="none"/>
<use href="#sO" x="129.1" y="253.9"/>
<path d="M137.4,233.4 V250.7 M132.9,233.4 h9.0 M132.9,250.7 h9.0" stroke="#909050" stroke-width="1.1" fill="none"/>
<use href="#sO" x="137.4" y="242.1"/>
<path d="M145.6,221.6 V239.4 M141.1,221.6 h9.0 M141.1,239.4 h9.0" stroke="#909050" stroke-width="1.1" fill="none"/>
<use href="#sO" x="145.6" y="230.5"/>
<path d="M153.9,209.8 V228.0 M149.4,209.8 h9.0 M149.4,228.0 h9.0" stroke="#909050" stroke-width="1.1" fill="none"/>
<use href="#sO" x="153.9" y="218.9"/>
<path d="M162.2,200.9 V219.5 M157.7,200.9 h9.0 M157.7,219.5 h9.0" stroke="#909050" stroke-width="1.1" fill="none"/>
<use href="#sO" x="162.2" y="210.2"/>
<path d="M170.5,191.9 V210.9 M166.0,191.9 h9.0 M166.0,210.9 h9.0" stroke="#909050" stroke-width="1.1" fill="none"/>
<use href="#sO" x="170.5" y="201.4"/>
<path d="M178.7,185.2 V204.5 M174.2,185.2 h9.0 M174.2,204.5 h9.0" stroke="#909050" stroke-width="1.1" fill="none"/>
<use href="#sO" x="178.7" y="194.9"/>
<path d="M187.0,173.0 V192.7 M182.5,173.0 h9.0 M182.5,192.7 h9.0" stroke="#909050" stroke-width="1.1" fill="none"/>
<use href="#sO" x="187.0" y="182.9"/>
<path d="M286.2,144.5 V166.5 M282.8,144.5 h7.0 M282.8,166.5 h7.0" stroke="#909050" stroke-width="1.1" fill="none" stroke-opacity="0.55"/>
<use href="#sO" x="286.2" y="155.5"/>
<path d="M484.8,126.1 V142.1 M481.2,126.1 h7.0 M481.2,142.1 h7.0" stroke="#909050" stroke-width="1.1" fill="none" stroke-opacity="0.55"/>
<use href="#sO" x="484.8" y="134.1"/>
<path d="M683.2,113.9 V125.9 M679.8,113.9 h7.0 M679.8,125.9 h7.0" stroke="#909050" stroke-width="1.1" fill="none" stroke-opacity="0.55"/>
<use href="#sO" x="683.2" y="119.9"/>
<use href="#sRD" x="87.8" y="468.0"/>
<path d="M91.9,433.9 V441.0 M87.4,433.9 h9.0 M87.4,441.0 h9.0" stroke="#F08080" stroke-width="1.1" fill="none"/>
<use href="#sRD" x="91.9" y="437.4"/>
<path d="M94.0,424.9 V432.4 M89.5,424.9 h9.0 M89.5,432.4 h9.0" stroke="#F08080" stroke-width="1.1" fill="none"/>
<use href="#sRD" x="94.0" y="428.7"/>
<path d="M96.0,416.1 V423.8 M91.5,416.1 h9.0 M91.5,423.8 h9.0" stroke="#F08080" stroke-width="1.1" fill="none"/>
<use href="#sRD" x="96.0" y="419.9"/>
<path d="M100.2,404.9 V413.1 M95.7,404.9 h9.0 M95.7,413.1 h9.0" stroke="#F08080" stroke-width="1.1" fill="none"/>
<use href="#sRD" x="100.2" y="409.0"/>
<path d="M104.3,397.4 V405.8 M99.8,397.4 h9.0 M99.8,405.8 h9.0" stroke="#F08080" stroke-width="1.1" fill="none"/>
<use href="#sRD" x="104.3" y="401.6"/>
<path d="M112.6,378.2 V387.3 M108.1,378.2 h9.0 M108.1,387.3 h9.0" stroke="#F08080" stroke-width="1.1" fill="none"/>
<use href="#sRD" x="112.6" y="382.8"/>
<path d="M120.8,360.6 V370.4 M116.3,360.6 h9.0 M116.3,370.4 h9.0" stroke="#F08080" stroke-width="1.1" fill="none"/>
<use href="#sRD" x="120.8" y="365.5"/>
<path d="M129.1,342.6 V353.0 M124.6,342.6 h9.0 M124.6,353.0 h9.0" stroke="#F08080" stroke-width="1.1" fill="none"/>
<use href="#sRD" x="129.1" y="347.8"/>
<path d="M137.4,327.0 V338.0 M132.9,327.0 h9.0 M132.9,338.0 h9.0" stroke="#F08080" stroke-width="1.1" fill="none"/>
<use href="#sRD" x="137.4" y="332.5"/>
<path d="M145.6,313.7 V325.1 M141.1,313.7 h9.0 M141.1,325.1 h9.0" stroke="#F08080" stroke-width="1.1" fill="none"/>
<use href="#sRD" x="145.6" y="319.4"/>
<path d="M153.9,303.9 V315.7 M149.4,303.9 h9.0 M149.4,315.7 h9.0" stroke="#F08080" stroke-width="1.1" fill="none"/>
<use href="#sRD" x="153.9" y="309.8"/>
<path d="M162.2,296.8 V308.8 M157.7,296.8 h9.0 M157.7,308.8 h9.0" stroke="#F08080" stroke-width="1.1" fill="none"/>
<use href="#sRD" x="162.2" y="302.8"/>
<path d="M170.5,289.7 V302.0 M166.0,289.7 h9.0 M166.0,302.0 h9.0" stroke="#F08080" stroke-width="1.1" fill="none"/>
<use href="#sRD" x="170.5" y="295.8"/>
<path d="M178.7,283.4 V296.0 M174.2,283.4 h9.0 M174.2,296.0 h9.0" stroke="#F08080" stroke-width="1.1" fill="none"/>
<use href="#sRD" x="178.7" y="289.7"/>
<path d="M187.0,277.2 V290.0 M182.5,277.2 h9.0 M182.5,290.0 h9.0" stroke="#F08080" stroke-width="1.1" fill="none"/>
<use href="#sRD" x="187.0" y="283.6"/>
<path d="M286.2,215.0 V225.0 M282.8,215.0 h7.0 M282.8,225.0 h7.0" stroke="#F08080" stroke-width="1.1" fill="none" stroke-opacity="0.55"/>
<use href="#sRD" x="286.2" y="220.0"/>
<path d="M484.8,92.2 V276.2 M481.2,92.2 h7.0 M481.2,276.2 h7.0" stroke="#F08080" stroke-width="1.1" fill="none" stroke-opacity="0.55"/>
<use href="#sRD" x="484.8" y="184.2"/>
<path d="M683.2,176.9 V184.9 M679.8,176.9 h7.0 M679.8,184.9 h7.0" stroke="#F08080" stroke-width="1.1" fill="none" stroke-opacity="0.55"/>
<use href="#sRD" x="683.2" y="180.9"/>
<use href="#sGR" x="87.8" y="468.0"/>
<path d="M91.9,447.2 V453.8 M87.4,447.2 h9.0 M87.4,453.8 h9.0" stroke="#80C080" stroke-width="1.1" fill="none"/>
<use href="#sGR" x="91.9" y="450.5"/>
<path d="M94.0,442.8 V449.5 M89.5,442.8 h9.0 M89.5,449.5 h9.0" stroke="#80C080" stroke-width="1.1" fill="none"/>
<use href="#sGR" x="94.0" y="446.1"/>
<path d="M96.0,437.2 V444.2 M91.5,437.2 h9.0 M91.5,444.2 h9.0" stroke="#80C080" stroke-width="1.1" fill="none"/>
<use href="#sGR" x="96.0" y="440.7"/>
<path d="M100.2,429.4 V436.7 M95.7,429.4 h9.0 M95.7,436.7 h9.0" stroke="#80C080" stroke-width="1.1" fill="none"/>
<use href="#sGR" x="100.2" y="433.0"/>
<path d="M104.3,422.7 V430.2 M99.8,422.7 h9.0 M99.8,430.2 h9.0" stroke="#80C080" stroke-width="1.1" fill="none"/>
<use href="#sGR" x="104.3" y="426.5"/>
<path d="M112.6,411.6 V419.5 M108.1,411.6 h9.0 M108.1,419.5 h9.0" stroke="#80C080" stroke-width="1.1" fill="none"/>
<use href="#sGR" x="112.6" y="415.6"/>
<path d="M120.8,401.6 V409.9 M116.3,401.6 h9.0 M116.3,409.9 h9.0" stroke="#80C080" stroke-width="1.1" fill="none"/>
<use href="#sGR" x="120.8" y="405.7"/>
<path d="M129.1,391.6 V400.2 M124.6,391.6 h9.0 M124.6,400.2 h9.0" stroke="#80C080" stroke-width="1.1" fill="none"/>
<use href="#sGR" x="129.1" y="395.9"/>
<path d="M137.4,383.8 V392.7 M132.9,383.8 h9.0 M132.9,392.7 h9.0" stroke="#80C080" stroke-width="1.1" fill="none"/>
<use href="#sGR" x="137.4" y="388.2"/>
<path d="M145.6,374.9 V384.1 M141.1,374.9 h9.0 M141.1,384.1 h9.0" stroke="#80C080" stroke-width="1.1" fill="none"/>
<use href="#sGR" x="145.6" y="379.5"/>
<path d="M153.9,367.1 V376.6 M149.4,367.1 h9.0 M149.4,376.6 h9.0" stroke="#80C080" stroke-width="1.1" fill="none"/>
<use href="#sGR" x="153.9" y="371.9"/>
<path d="M162.2,358.2 V368.0 M157.7,358.2 h9.0 M157.7,368.0 h9.0" stroke="#80C080" stroke-width="1.1" fill="none"/>
<use href="#sGR" x="162.2" y="363.1"/>
<path d="M170.5,350.4 V360.5 M166.0,350.4 h9.0 M166.0,360.5 h9.0" stroke="#80C080" stroke-width="1.1" fill="none"/>
<use href="#sGR" x="170.5" y="355.5"/>
<path d="M178.7,342.6 V353.0 M174.2,342.6 h9.0 M174.2,353.0 h9.0" stroke="#80C080" stroke-width="1.1" fill="none"/>
<use href="#sGR" x="178.7" y="347.8"/>
<path d="M187.0,334.6 V345.3 M182.5,334.6 h9.0 M182.5,345.3 h9.0" stroke="#80C080" stroke-width="1.1" fill="none"/>
<use href="#sGR" x="187.0" y="340.0"/>
<path d="M286.2,297.7 V305.7 M282.8,297.7 h7.0 M282.8,305.7 h7.0" stroke="#80C080" stroke-width="1.1" fill="none" stroke-opacity="0.55"/>
<use href="#sGR" x="286.2" y="301.7"/>
<path d="M484.8,273.0 V285.0 M481.2,273.0 h7.0 M481.2,285.0 h7.0" stroke="#80C080" stroke-width="1.1" fill="none" stroke-opacity="0.55"/>
<use href="#sGR" x="484.8" y="279.0"/>
<path d="M683.2,275.9 V283.9 M679.8,275.9 h7.0 M679.8,283.9 h7.0" stroke="#80C080" stroke-width="1.1" fill="none" stroke-opacity="0.55"/>
<use href="#sGR" x="683.2" y="279.9"/>
<use href="#sNV" x="87.8" y="468.0"/>
<path d="M91.9,404.9 V415.3 M87.4,404.9 h9.0 M87.4,415.3 h9.0" stroke="#7070A0" stroke-width="1.1" fill="none"/>
<use href="#sNV" x="91.9" y="410.1"/>
<path d="M94.0,392.6 V403.5 M89.5,392.6 h9.0 M89.5,403.5 h9.0" stroke="#7070A0" stroke-width="1.1" fill="none"/>
<use href="#sNV" x="94.0" y="398.1"/>
<path d="M96.0,377.0 V388.5 M91.5,377.0 h9.0 M91.5,388.5 h9.0" stroke="#7070A0" stroke-width="1.1" fill="none"/>
<use href="#sNV" x="96.0" y="382.8"/>
<path d="M100.2,352.5 V365.0 M95.7,352.5 h9.0 M95.7,365.0 h9.0" stroke="#7070A0" stroke-width="1.1" fill="none"/>
<use href="#sNV" x="100.2" y="358.8"/>
<path d="M104.3,334.7 V347.9 M99.8,334.7 h9.0 M99.8,347.9 h9.0" stroke="#7070A0" stroke-width="1.1" fill="none"/>
<use href="#sNV" x="104.3" y="341.3"/>
<path d="M112.6,303.4 V317.9 M108.1,303.4 h9.0 M108.1,317.9 h9.0" stroke="#7070A0" stroke-width="1.1" fill="none"/>
<use href="#sNV" x="112.6" y="310.7"/>
<path d="M120.8,278.9 V294.4 M116.3,278.9 h9.0 M116.3,294.4 h9.0" stroke="#7070A0" stroke-width="1.1" fill="none"/>
<use href="#sNV" x="120.8" y="286.6"/>
<path d="M129.1,265.5 V281.5 M124.6,265.5 h9.0 M124.6,281.5 h9.0" stroke="#7070A0" stroke-width="1.1" fill="none"/>
<use href="#sNV" x="129.1" y="273.5"/>
<path d="M137.4,247.7 V264.4 M132.9,247.7 h9.0 M132.9,264.4 h9.0" stroke="#7070A0" stroke-width="1.1" fill="none"/>
<use href="#sNV" x="137.4" y="256.1"/>
<path d="M145.6,236.5 V253.7 M141.1,236.5 h9.0 M141.1,253.7 h9.0" stroke="#7070A0" stroke-width="1.1" fill="none"/>
<use href="#sNV" x="145.6" y="245.1"/>
<path d="M153.9,227.6 V245.2 M149.4,227.6 h9.0 M149.4,245.2 h9.0" stroke="#7070A0" stroke-width="1.1" fill="none"/>
<use href="#sNV" x="153.9" y="236.4"/>
<path d="M162.2,218.7 V236.6 M157.7,218.7 h9.0 M157.7,236.6 h9.0" stroke="#7070A0" stroke-width="1.1" fill="none"/>
<use href="#sNV" x="162.2" y="227.6"/>
<path d="M170.5,212.0 V230.2 M166.0,212.0 h9.0 M166.0,230.2 h9.0" stroke="#7070A0" stroke-width="1.1" fill="none"/>
<use href="#sNV" x="170.5" y="221.1"/>
<path d="M178.7,207.5 V225.9 M174.2,207.5 h9.0 M174.2,225.9 h9.0" stroke="#7070A0" stroke-width="1.1" fill="none"/>
<use href="#sNV" x="178.7" y="216.7"/>
<path d="M187.0,201.1 V219.7 M182.5,201.1 h9.0 M182.5,219.7 h9.0" stroke="#7070A0" stroke-width="1.1" fill="none"/>
<use href="#sNV" x="187.0" y="210.4"/>
<path d="M286.2,200.9 V212.9 M282.8,200.9 h7.0 M282.8,212.9 h7.0" stroke="#7070A0" stroke-width="1.1" fill="none" stroke-opacity="0.55"/>
<use href="#sNV" x="286.2" y="206.9"/>
<path d="M484.8,194.2 V204.2 M481.2,194.2 h7.0 M481.2,204.2 h7.0" stroke="#7070A0" stroke-width="1.1" fill="none" stroke-opacity="0.55"/>
<use href="#sNV" x="484.8" y="199.2"/>
<path d="M683.2,188.8 V198.8 M679.8,188.8 h7.0 M679.8,198.8 h7.0" stroke="#7070A0" stroke-width="1.1" fill="none" stroke-opacity="0.55"/>
<use href="#sNV" x="683.2" y="193.8"/>
<use href="#sBL" x="87.8" y="468.0"/>
<path d="M91.9,438.3 V445.3 M87.4,438.3 h9.0 M87.4,445.3 h9.0" stroke="#8080FF" stroke-width="1.1" fill="none"/>
<use href="#sBL" x="91.9" y="441.8"/>
<path d="M94.0,430.5 V437.8 M89.5,430.5 h9.0 M89.5,437.8 h9.0" stroke="#8080FF" stroke-width="1.1" fill="none"/>
<use href="#sBL" x="94.0" y="434.1"/>
<path d="M96.0,421.6 V429.2 M91.5,421.6 h9.0 M91.5,429.2 h9.0" stroke="#8080FF" stroke-width="1.1" fill="none"/>
<use href="#sBL" x="96.0" y="425.4"/>
<path d="M100.2,411.6 V419.5 M95.7,411.6 h9.0 M95.7,419.5 h9.0" stroke="#8080FF" stroke-width="1.1" fill="none"/>
<use href="#sBL" x="100.2" y="415.6"/>
<path d="M104.3,402.7 V410.9 M99.8,402.7 h9.0 M99.8,410.9 h9.0" stroke="#8080FF" stroke-width="1.1" fill="none"/>
<use href="#sBL" x="104.3" y="406.8"/>
<path d="M112.6,383.6 V392.5 M108.1,383.6 h9.0 M108.1,392.5 h9.0" stroke="#8080FF" stroke-width="1.1" fill="none"/>
<use href="#sBL" x="112.6" y="388.0"/>
<path d="M120.8,366.2 V375.8 M116.3,366.2 h9.0 M116.3,375.8 h9.0" stroke="#8080FF" stroke-width="1.1" fill="none"/>
<use href="#sBL" x="120.8" y="371.0"/>
<path d="M129.1,351.5 V361.6 M124.6,351.5 h9.0 M124.6,361.6 h9.0" stroke="#8080FF" stroke-width="1.1" fill="none"/>
<use href="#sBL" x="129.1" y="356.6"/>
<path d="M137.4,338.2 V348.7 M132.9,338.2 h9.0 M132.9,348.7 h9.0" stroke="#8080FF" stroke-width="1.1" fill="none"/>
<use href="#sBL" x="137.4" y="343.5"/>
<path d="M145.6,325.9 V336.9 M141.1,325.9 h9.0 M141.1,336.9 h9.0" stroke="#8080FF" stroke-width="1.1" fill="none"/>
<use href="#sBL" x="145.6" y="331.4"/>
<path d="M153.9,315.5 V326.9 M149.4,315.5 h9.0 M149.4,326.9 h9.0" stroke="#8080FF" stroke-width="1.1" fill="none"/>
<use href="#sBL" x="153.9" y="321.2"/>
<path d="M162.2,306.6 V318.3 M157.7,306.6 h9.0 M157.7,318.3 h9.0" stroke="#8080FF" stroke-width="1.1" fill="none"/>
<use href="#sBL" x="162.2" y="312.4"/>
<path d="M170.5,299.5 V311.4 M166.0,299.5 h9.0 M166.0,311.4 h9.0" stroke="#8080FF" stroke-width="1.1" fill="none"/>
<use href="#sBL" x="170.5" y="305.4"/>
<path d="M178.7,293.2 V305.4 M174.2,293.2 h9.0 M174.2,305.4 h9.0" stroke="#8080FF" stroke-width="1.1" fill="none"/>
<use href="#sBL" x="178.7" y="299.3"/>
<path d="M187.0,287.2 V299.6 M182.5,287.2 h9.0 M182.5,299.6 h9.0" stroke="#8080FF" stroke-width="1.1" fill="none"/>
<use href="#sBL" x="187.0" y="293.4"/>
<path d="M286.2,231.5 V239.5 M282.8,231.5 h7.0 M282.8,239.5 h7.0" stroke="#8080FF" stroke-width="1.1" fill="none" stroke-opacity="0.55"/>
<use href="#sBL" x="286.2" y="235.5"/>
<path d="M484.8,202.7 V210.7 M481.2,202.7 h7.0 M481.2,210.7 h7.0" stroke="#8080FF" stroke-width="1.1" fill="none" stroke-opacity="0.55"/>
<use href="#sBL" x="484.8" y="206.7"/>
<path d="M683.2,199.8 V207.8 M679.8,199.8 h7.0 M679.8,207.8 h7.0" stroke="#8080FF" stroke-width="1.1" fill="none" stroke-opacity="0.55"/>
<use href="#sBL" x="683.2" y="203.8"/>
<use href="#sNC" x="87.8" y="468.0"/>
<path d="M91.9,445.0 V451.7 M87.4,445.0 h9.0 M87.4,451.7 h9.0" stroke="#8080C0" stroke-width="1.1" fill="none"/>
<use href="#sNC" x="91.9" y="448.3"/>
<path d="M94.0,439.4 V446.3 M89.5,439.4 h9.0 M89.5,446.3 h9.0" stroke="#8080C0" stroke-width="1.1" fill="none"/>
<use href="#sNC" x="94.0" y="442.9"/>
<path d="M96.0,432.7 V439.9 M91.5,432.7 h9.0 M91.5,439.9 h9.0" stroke="#8080C0" stroke-width="1.1" fill="none"/>
<use href="#sNC" x="96.0" y="436.3"/>
<path d="M100.2,423.8 V431.3 M95.7,423.8 h9.0 M95.7,431.3 h9.0" stroke="#8080C0" stroke-width="1.1" fill="none"/>
<use href="#sNC" x="100.2" y="427.6"/>
<path d="M104.3,416.1 V423.8 M99.8,416.1 h9.0 M99.8,423.8 h9.0" stroke="#8080C0" stroke-width="1.1" fill="none"/>
<use href="#sNC" x="104.3" y="419.9"/>
<path d="M112.6,403.8 V412.0 M108.1,403.8 h9.0 M108.1,412.0 h9.0" stroke="#8080C0" stroke-width="1.1" fill="none"/>
<use href="#sNC" x="112.6" y="407.9"/>
<path d="M120.8,391.6 V400.2 M116.3,391.6 h9.0 M116.3,400.2 h9.0" stroke="#8080C0" stroke-width="1.1" fill="none"/>
<use href="#sNC" x="120.8" y="395.9"/>
<path d="M129.1,382.7 V391.6 M124.6,382.7 h9.0 M124.6,391.6 h9.0" stroke="#8080C0" stroke-width="1.1" fill="none"/>
<use href="#sNC" x="129.1" y="387.2"/>
<path d="M137.4,373.8 V383.1 M132.9,373.8 h9.0 M132.9,383.1 h9.0" stroke="#8080C0" stroke-width="1.1" fill="none"/>
<use href="#sNC" x="137.4" y="378.4"/>
<path d="M145.6,366.4 V376.0 M141.1,366.4 h9.0 M141.1,376.0 h9.0" stroke="#8080C0" stroke-width="1.1" fill="none"/>
<use href="#sNC" x="145.6" y="371.2"/>
<path d="M153.9,362.9 V372.5 M149.4,362.9 h9.0 M149.4,372.5 h9.0" stroke="#8080C0" stroke-width="1.1" fill="none"/>
<use href="#sNC" x="153.9" y="367.7"/>
<path d="M162.2,355.8 V365.7 M157.7,355.8 h9.0 M157.7,365.7 h9.0" stroke="#8080C0" stroke-width="1.1" fill="none"/>
<use href="#sNC" x="162.2" y="360.7"/>
<path d="M170.5,350.4 V360.5 M166.0,350.4 h9.0 M166.0,360.5 h9.0" stroke="#8080C0" stroke-width="1.1" fill="none"/>
<use href="#sNC" x="170.5" y="355.5"/>
<path d="M178.7,343.3 V353.7 M174.2,343.3 h9.0 M174.2,353.7 h9.0" stroke="#8080C0" stroke-width="1.1" fill="none"/>
<use href="#sNC" x="178.7" y="348.5"/>
<path d="M187.0,338.0 V348.5 M182.5,338.0 h9.0 M182.5,348.5 h9.0" stroke="#8080C0" stroke-width="1.1" fill="none"/>
<use href="#sNC" x="187.0" y="343.2"/>
<path d="M286.2,317.5 V323.5 M282.8,317.5 h7.0 M282.8,323.5 h7.0" stroke="#8080C0" stroke-width="1.1" fill="none" stroke-opacity="0.55"/>
<use href="#sNC" x="286.2" y="320.5"/>
<path d="M484.8,302.0 V308.0 M481.2,302.0 h7.0 M481.2,308.0 h7.0" stroke="#8080C0" stroke-width="1.1" fill="none" stroke-opacity="0.55"/>
<use href="#sNC" x="484.8" y="305.0"/>
<path d="M683.2,297.4 V303.4 M679.8,297.4 h7.0 M679.8,303.4 h7.0" stroke="#8080C0" stroke-width="1.1" fill="none" stroke-opacity="0.55"/>
<use href="#sNC" x="683.2" y="300.4"/>
<use href="#sDR" x="87.8" y="468.0"/>
<path d="M91.9,414.5 V424.5 M87.4,414.5 h9.0 M87.4,424.5 h9.0" stroke="#A06060" stroke-width="1.1" fill="none"/>
<use href="#sDR" x="91.9" y="419.5"/>
<path d="M94.0,397.1 V407.8 M89.5,397.1 h9.0 M89.5,407.8 h9.0" stroke="#A06060" stroke-width="1.1" fill="none"/>
<use href="#sDR" x="94.0" y="402.4"/>
<path d="M96.0,381.5 V392.8 M91.5,381.5 h9.0 M91.5,392.8 h9.0" stroke="#A06060" stroke-width="1.1" fill="none"/>
<use href="#sDR" x="96.0" y="387.2"/>
<path d="M100.2,356.7 V369.1 M95.7,356.7 h9.0 M95.7,369.1 h9.0" stroke="#A06060" stroke-width="1.1" fill="none"/>
<use href="#sDR" x="100.2" y="362.9"/>
<path d="M104.3,338.2 V351.3 M99.8,338.2 h9.0 M99.8,351.3 h9.0" stroke="#A06060" stroke-width="1.1" fill="none"/>
<use href="#sDR" x="104.3" y="344.8"/>
<path d="M112.6,299.0 V313.6 M108.1,299.0 h9.0 M108.1,313.6 h9.0" stroke="#A06060" stroke-width="1.1" fill="none"/>
<use href="#sDR" x="112.6" y="306.3"/>
<path d="M120.8,277.1 V292.7 M116.3,277.1 h9.0 M116.3,292.7 h9.0" stroke="#A06060" stroke-width="1.1" fill="none"/>
<use href="#sDR" x="120.8" y="284.9"/>
<path d="M129.1,256.4 V272.8 M124.6,256.4 h9.0 M124.6,272.8 h9.0" stroke="#A06060" stroke-width="1.1" fill="none"/>
<use href="#sDR" x="129.1" y="264.6"/>
<path d="M137.4,245.9 V262.7 M132.9,245.9 h9.0 M132.9,262.7 h9.0" stroke="#A06060" stroke-width="1.1" fill="none"/>
<use href="#sDR" x="137.4" y="254.3"/>
<path d="M145.6,235.4 V252.7 M141.1,235.4 h9.0 M141.1,252.7 h9.0" stroke="#A06060" stroke-width="1.1" fill="none"/>
<use href="#sDR" x="145.6" y="244.0"/>
<path d="M153.9,223.2 V240.9 M149.4,223.2 h9.0 M149.4,240.9 h9.0" stroke="#A06060" stroke-width="1.1" fill="none"/>
<use href="#sDR" x="153.9" y="232.0"/>
<path d="M162.2,214.2 V232.3 M157.7,214.2 h9.0 M157.7,232.3 h9.0" stroke="#A06060" stroke-width="1.1" fill="none"/>
<use href="#sDR" x="162.2" y="223.3"/>
<path d="M170.5,205.3 V223.8 M166.0,205.3 h9.0 M166.0,223.8 h9.0" stroke="#A06060" stroke-width="1.1" fill="none"/>
<use href="#sDR" x="170.5" y="214.5"/>
<path d="M178.7,198.6 V217.3 M174.2,198.6 h9.0 M174.2,217.3 h9.0" stroke="#A06060" stroke-width="1.1" fill="none"/>
<use href="#sDR" x="178.7" y="208.0"/>
<path d="M187.0,191.7 V210.7 M182.5,191.7 h9.0 M182.5,210.7 h9.0" stroke="#A06060" stroke-width="1.1" fill="none"/>
<use href="#sDR" x="187.0" y="201.2"/>
<path d="M286.2,149.6 V209.6 M282.8,149.6 h7.0 M282.8,209.6 h7.0" stroke="#A06060" stroke-width="1.1" fill="none" stroke-opacity="0.55"/>
<use href="#sDR" x="286.2" y="179.6"/>
<path d="M484.8,159.8 V171.8 M481.2,159.8 h7.0 M481.2,171.8 h7.0" stroke="#A06060" stroke-width="1.1" fill="none" stroke-opacity="0.55"/>
<use href="#sDR" x="484.8" y="165.8"/>
<path d="M683.2,156.3 V168.3 M679.8,156.3 h7.0 M679.8,168.3 h7.0" stroke="#A06060" stroke-width="1.1" fill="none" stroke-opacity="0.55"/>
<use href="#sDR" x="683.2" y="162.3"/>
<use href="#sTL" x="87.8" y="468.0"/>
<path d="M91.9,442.8 V449.5 M87.4,442.8 h9.0 M87.4,449.5 h9.0" stroke="#80C0C0" stroke-width="1.1" fill="none"/>
<use href="#sTL" x="91.9" y="446.1"/>
<path d="M94.0,435.0 V442.0 M89.5,435.0 h9.0 M89.5,442.0 h9.0" stroke="#80C0C0" stroke-width="1.1" fill="none"/>
<use href="#sTL" x="94.0" y="438.5"/>
<path d="M96.0,427.2 V434.5 M91.5,427.2 h9.0 M91.5,434.5 h9.0" stroke="#80C0C0" stroke-width="1.1" fill="none"/>
<use href="#sTL" x="96.0" y="430.9"/>
<path d="M100.2,417.2 V424.9 M95.7,417.2 h9.0 M95.7,424.9 h9.0" stroke="#80C0C0" stroke-width="1.1" fill="none"/>
<use href="#sTL" x="100.2" y="421.0"/>
<path d="M104.3,409.4 V417.4 M99.8,409.4 h9.0 M99.8,417.4 h9.0" stroke="#80C0C0" stroke-width="1.1" fill="none"/>
<use href="#sTL" x="104.3" y="413.4"/>
<path d="M112.6,393.8 V402.4 M108.1,393.8 h9.0 M108.1,402.4 h9.0" stroke="#80C0C0" stroke-width="1.1" fill="none"/>
<use href="#sTL" x="112.6" y="398.1"/>
<path d="M120.8,373.8 V383.1 M116.3,373.8 h9.0 M116.3,383.1 h9.0" stroke="#80C0C0" stroke-width="1.1" fill="none"/>
<use href="#sTL" x="120.8" y="378.4"/>
<path d="M129.1,360.4 V370.2 M124.6,360.4 h9.0 M124.6,370.2 h9.0" stroke="#80C0C0" stroke-width="1.1" fill="none"/>
<use href="#sTL" x="129.1" y="365.3"/>
<path d="M137.4,347.1 V357.3 M132.9,347.1 h9.0 M132.9,357.3 h9.0" stroke="#80C0C0" stroke-width="1.1" fill="none"/>
<use href="#sTL" x="137.4" y="352.2"/>
<path d="M145.6,335.9 V346.6 M141.1,335.9 h9.0 M141.1,346.6 h9.0" stroke="#80C0C0" stroke-width="1.1" fill="none"/>
<use href="#sTL" x="145.6" y="341.3"/>
<path d="M153.9,327.0 V338.0 M149.4,327.0 h9.0 M149.4,338.0 h9.0" stroke="#80C0C0" stroke-width="1.1" fill="none"/>
<use href="#sTL" x="153.9" y="332.5"/>
<path d="M162.2,319.9 V331.1 M157.7,319.9 h9.0 M157.7,331.1 h9.0" stroke="#80C0C0" stroke-width="1.1" fill="none"/>
<use href="#sTL" x="162.2" y="325.5"/>
<path d="M170.5,313.7 V325.1 M166.0,313.7 h9.0 M166.0,325.1 h9.0" stroke="#80C0C0" stroke-width="1.1" fill="none"/>
<use href="#sTL" x="170.5" y="319.4"/>
<path d="M178.7,306.6 V318.3 M174.2,306.6 h9.0 M174.2,318.3 h9.0" stroke="#80C0C0" stroke-width="1.1" fill="none"/>
<use href="#sTL" x="178.7" y="312.4"/>
<path d="M187.0,300.1 V312.1 M182.5,300.1 h9.0 M182.5,312.1 h9.0" stroke="#80C0C0" stroke-width="1.1" fill="none"/>
<use href="#sTL" x="187.0" y="306.1"/>
<path d="M286.2,249.0 V257.0 M282.8,249.0 h7.0 M282.8,257.0 h7.0" stroke="#80C0C0" stroke-width="1.1" fill="none" stroke-opacity="0.55"/>
<use href="#sTL" x="286.2" y="253.0"/>
<path d="M484.8,224.1 V232.1 M481.2,224.1 h7.0 M481.2,232.1 h7.0" stroke="#80C0C0" stroke-width="1.1" fill="none" stroke-opacity="0.55"/>
<use href="#sTL" x="484.8" y="228.1"/>
<path d="M683.2,218.6 V226.6 M679.8,218.6 h7.0 M679.8,226.6 h7.0" stroke="#80C0C0" stroke-width="1.1" fill="none" stroke-opacity="0.55"/>
<use href="#sTL" x="683.2" y="222.6"/>
<use href="#sOR" x="87.8" y="468.0"/>
<path d="M91.9,450.1 V456.6 M87.4,450.1 h9.0 M87.4,456.6 h9.0" stroke="#FFC080" stroke-width="1.1" fill="none"/>
<use href="#sOR" x="91.9" y="453.4"/>
<path d="M94.0,444.5 V451.3 M89.5,444.5 h9.0 M89.5,451.3 h9.0" stroke="#FFC080" stroke-width="1.1" fill="none"/>
<use href="#sOR" x="94.0" y="447.9"/>
<path d="M96.0,438.5 V445.5 M91.5,438.5 h9.0 M91.5,445.5 h9.0" stroke="#FFC080" stroke-width="1.1" fill="none"/>
<use href="#sOR" x="96.0" y="442.0"/>
<path d="M100.2,432.5 V439.7 M95.7,432.5 h9.0 M95.7,439.7 h9.0" stroke="#FFC080" stroke-width="1.1" fill="none"/>
<use href="#sOR" x="100.2" y="436.1"/>
<path d="M104.3,430.1 V437.3 M99.8,430.1 h9.0 M99.8,437.3 h9.0" stroke="#FFC080" stroke-width="1.1" fill="none"/>
<use href="#sOR" x="104.3" y="433.7"/>
<path d="M112.6,420.5 V428.1 M108.1,420.5 h9.0 M108.1,428.1 h9.0" stroke="#FFC080" stroke-width="1.1" fill="none"/>
<use href="#sOR" x="112.6" y="424.3"/>
<path d="M120.8,411.8 V419.7 M116.3,411.8 h9.0 M116.3,419.7 h9.0" stroke="#FFC080" stroke-width="1.1" fill="none"/>
<use href="#sOR" x="120.8" y="415.8"/>
<path d="M129.1,406.0 V414.2 M124.6,406.0 h9.0 M124.6,414.2 h9.0" stroke="#FFC080" stroke-width="1.1" fill="none"/>
<use href="#sOR" x="129.1" y="410.1"/>
<path d="M137.4,398.2 V406.6 M132.9,398.2 h9.0 M132.9,406.6 h9.0" stroke="#FFC080" stroke-width="1.1" fill="none"/>
<use href="#sOR" x="137.4" y="402.4"/>
<path d="M145.6,393.8 V402.4 M141.1,393.8 h9.0 M141.1,402.4 h9.0" stroke="#FFC080" stroke-width="1.1" fill="none"/>
<use href="#sOR" x="145.6" y="398.1"/>
<path d="M153.9,387.6 V396.4 M149.4,387.6 h9.0 M149.4,396.4 h9.0" stroke="#FFC080" stroke-width="1.1" fill="none"/>
<use href="#sOR" x="153.9" y="392.0"/>
<path d="M162.2,383.1 V392.1 M157.7,383.1 h9.0 M157.7,392.1 h9.0" stroke="#FFC080" stroke-width="1.1" fill="none"/>
<use href="#sOR" x="162.2" y="387.6"/>
<path d="M170.5,377.6 V386.7 M166.0,377.6 h9.0 M166.0,386.7 h9.0" stroke="#FFC080" stroke-width="1.1" fill="none"/>
<use href="#sOR" x="170.5" y="382.1"/>
<path d="M178.7,372.2 V381.6 M174.2,372.2 h9.0 M174.2,381.6 h9.0" stroke="#FFC080" stroke-width="1.1" fill="none"/>
<use href="#sOR" x="178.7" y="376.9"/>
<path d="M187.0,366.0 V375.5 M182.5,366.0 h9.0 M182.5,375.5 h9.0" stroke="#FFC080" stroke-width="1.1" fill="none"/>
<use href="#sOR" x="187.0" y="370.8"/>
<path d="M286.2,335.9 V341.9 M282.8,335.9 h7.0 M282.8,341.9 h7.0" stroke="#FFC080" stroke-width="1.1" fill="none" stroke-opacity="0.55"/>
<use href="#sOR" x="286.2" y="338.9"/>
<path d="M484.8,328.0 V334.0 M481.2,328.0 h7.0 M481.2,334.0 h7.0" stroke="#FFC080" stroke-width="1.1" fill="none" stroke-opacity="0.55"/>
<use href="#sOR" x="484.8" y="331.0"/>
<path d="M683.2,323.6 V329.6 M679.8,323.6 h7.0 M679.8,329.6 h7.0" stroke="#FFC080" stroke-width="1.1" fill="none" stroke-opacity="0.55"/>
<use href="#sOR" x="683.2" y="326.6"/>
</g>
<path d="M189,31.2 V489 M685.4,31.2 V489" stroke="#222" stroke-width="1.8" stroke-dasharray="5.6 5.05" fill="none"/>
<text x="210" y="384.9" font-size="23.5">0.2 mol%</text>
<text x="312" y="384.9" font-size="23.5">in</text>
<use href="#sM" x="355.8" y="375.3"/>
<text x="388" y="384.9" font-size="23.5">DMF;</text>
<use href="#LBK" x="475.5" y="376.8"/>
<text x="507.5" y="384.9" font-size="23.5">H<tspan font-size="14">2</tspan>O;</text>
<use href="#sPK" x="586.3" y="376.8"/>
<text x="618" y="384.9" font-size="23.5">PBS</text>
<text x="210" y="412.7" font-size="23.5">0.4 mol%</text>
<text x="312" y="412.7" font-size="23.5">in</text>
<use href="#sO" x="355.8" y="403.1"/>
<text x="388" y="412.7" font-size="23.5">DMF;</text>
<use href="#LRD" x="475.5" y="404.6"/>
<text x="507.5" y="412.7" font-size="23.5">H<tspan font-size="14">2</tspan>O;</text>
<use href="#sGR" x="586.3" y="404.6"/>
<text x="618" y="412.7" font-size="23.5">PBS</text>
<text x="210" y="440.5" font-size="23.5">0.6 mol%</text>
<text x="312" y="440.5" font-size="23.5">in</text>
<use href="#sNV" x="355.8" y="430.9"/>
<text x="388" y="440.5" font-size="23.5">DMF;</text>
<use href="#LBL" x="475.5" y="432.4"/>
<text x="507.5" y="440.5" font-size="23.5">H<tspan font-size="14">2</tspan>O;</text>
<use href="#sNC" x="586.3" y="432.4"/>
<text x="618" y="440.5" font-size="23.5">PBS</text>
<text x="210" y="468.3" font-size="23.5">0.8 mol%</text>
<text x="312" y="468.3" font-size="23.5">in</text>
<use href="#sDR" x="355.8" y="458.7"/>
<text x="388" y="468.3" font-size="23.5">DMF;</text>
<use href="#LTL" x="475.5" y="460.2"/>
<text x="507.5" y="468.3" font-size="23.5">H<tspan font-size="14">2</tspan>O;</text>
<use href="#sOR" x="586.3" y="460.2"/>
<text x="618" y="468.3" font-size="23.5">PBS</text>
</svg></body></html>
